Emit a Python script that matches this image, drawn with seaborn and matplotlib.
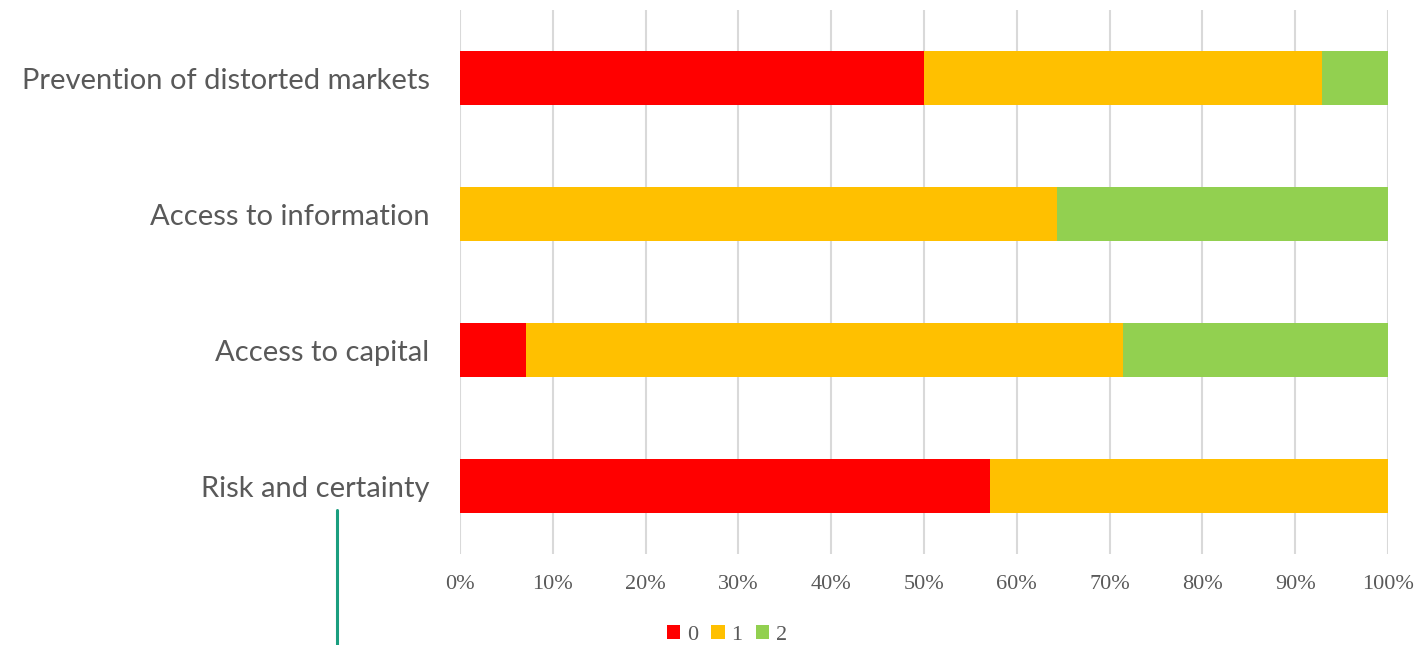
import matplotlib
matplotlib.use("Agg")
import matplotlib.pyplot as plt
import seaborn as sns
import pandas as pd
from matplotlib.lines import Line2D
from matplotlib.patches import Patch

# Data (share of responses, %)
categories = ["Prevention of distorted markets", "Access to information",
              "Access to capital", "Risk and certainty"]
share_0 = [50.0, 0.0, 7.1, 57.1]
share_1 = [42.9, 64.3, 64.3, 42.9]
share_2 = [7.1, 35.7, 28.6, 0.0]
x_ticks = [0, 10, 20, 30, 40, 50, 60, 70, 80, 90, 100]
series_labels = ["0", "1", "2"]
colors = ["#FF0000", "#FFC000", "#92D050"]

df = pd.DataFrame({"category": categories, "s0": share_0, "s1": share_1, "s2": share_2})
df["c0"] = df["s0"]
df["c1"] = df["s0"] + df["s1"]
df["c2"] = df["s0"] + df["s1"] + df["s2"]

sns.set_style("white")

fig = plt.figure(figsize=(14.16, 6.45), dpi=100)
ax = fig.add_axes([0.3249, 0.141, 0.6553, 0.8435])

# stacked bars: draw cumulative totals from largest to smallest
for col, color in zip(["c2", "c1", "c0"], colors[::-1]):
    sns.barplot(data=df, x=col, y="category", orient="h", color=color,
                width=0.4, linewidth=0, saturation=1, ax=ax, zorder=3)

ax.set_xlim(0, 100)
ax.set_ylim(3.5, -0.5)
ax.set_xticks(x_ticks)
ax.set_xticklabels([f"{t}%" for t in x_ticks], family="Liberation Serif",
                   fontsize=16, color="#595959")
ax.set_yticks(range(len(categories)))
ax.set_yticklabels(categories, family="Lato", fontsize=21, color="#595959")
ax.tick_params(axis="x", length=0, pad=15)
ax.tick_params(axis="y", length=0, pad=22)
ax.set_xlabel("")
ax.set_ylabel("")
ax.grid(axis="x", color="#D9D9D9", linewidth=1.5, zorder=0)
ax.grid(axis="y", visible=False)
ax.set_axisbelow(True)
for s in ax.spines.values():
    s.set_visible(False)

handles = [Patch(facecolor=c, edgecolor="none") for c in colors]
fig.legend(handles, series_labels, loc="center", bbox_to_anchor=(727 / 1416, 1 - 635 / 645),
           ncol=3, frameon=False, prop={"family": "Liberation Serif", "size": 16},
           handlelength=0.6, handleheight=0.6, handletextpad=0.3, columnspacing=0.6,
           labelcolor="#595959")

# stray teal line present in the source image
fig.add_artist(Line2D([337 / 1416, 337 / 1416], [0, 1 - 510 / 645],
                      transform=fig.transFigure, color="#1A9E7F", linewidth=2.2))

fig.savefig("out.png", dpi=100)
